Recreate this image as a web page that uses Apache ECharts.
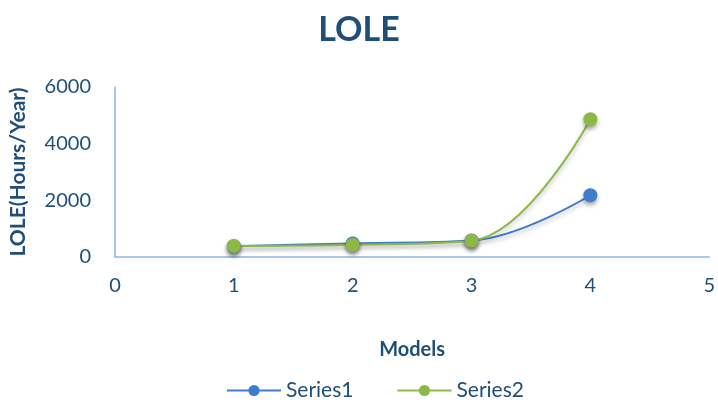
<!DOCTYPE html>
<html><head><meta charset="utf-8">
<script src="https://cdn.jsdelivr.net/npm/echarts@6/dist/echarts.min.js"></script>
<style>html,body{margin:0;padding:0;background:#fff}#c{width:718px;height:404px}</style>
</head><body><div id="c"></div>
<script>
const models = [1, 2, 3, 4];
const series1 = [380, 480, 580, 2180];
const series2 = [390, 430, 570, 4860];
const seriesNames = ['Series1', 'Series2'];
const txt = '#1f4e79';
const font = 'Lato, "Open Sans", sans-serif';
const chart = echarts.init(document.getElementById('c'));
const mk = (name, vals, color) => ({
  name, type: 'line', smooth: 0.4,
  data: models.map((m, i) => [m, vals[i]]),
  symbol: 'circle', symbolSize: 14,
  lineStyle: { color, width: 2, shadowColor: 'rgba(0,0,0,0.25)', shadowBlur: 4, shadowOffsetY: 3 },
  itemStyle: { color, shadowColor: 'rgba(0,0,0,0.35)', shadowBlur: 4, shadowOffsetY: 3 }
});
chart.setOption({
  animation: false,
  textStyle: { fontFamily: font },
  title: { text: 'LOLE', left: 'center', top: 8, textStyle: { color: txt, fontSize: 34, fontWeight: 'bold', fontFamily: font } },
  grid: { left: 115, right: 6, top: 87, bottom: 147, containLabel: false },
  xAxis: {
    type: 'value', min: 0, max: 5, interval: 1,
    name: 'Models', nameLocation: 'middle', nameGap: 83,
    nameTextStyle: { color: txt, fontSize: 20, fontWeight: 'bold' },
    axisLine: { lineStyle: { color: '#8eb4e3', width: 1.5 } },
    axisTick: { show: false }, splitLine: { show: false },
    axisLabel: { color: txt, fontSize: 20, margin: 19 }
  },
  yAxis: {
    type: 'value', min: 0, max: 6000, interval: 2000,
    name: 'LOLE(Hours/Year)', nameLocation: 'middle', nameGap: 86,
    nameTextStyle: { color: txt, fontSize: 21, fontWeight: 'bold' },
    axisLine: { show: true, lineStyle: { color: '#8eb4e3', width: 1.5 } },
    axisTick: { show: false }, splitLine: { show: false },
    axisLabel: { color: txt, fontSize: 20, margin: 24, formatter: v => String(v) }
  },
  legend: {
    bottom: -2, left: 221, itemWidth: 54, itemHeight: 14, itemGap: 43,
    textStyle: { color: txt, fontSize: 21 },
    data: seriesNames
  },
  series: [mk(seriesNames[0], series1, '#3f7ccc'), mk(seriesNames[1], series2, '#8cb946')]
});
</script></body></html>
